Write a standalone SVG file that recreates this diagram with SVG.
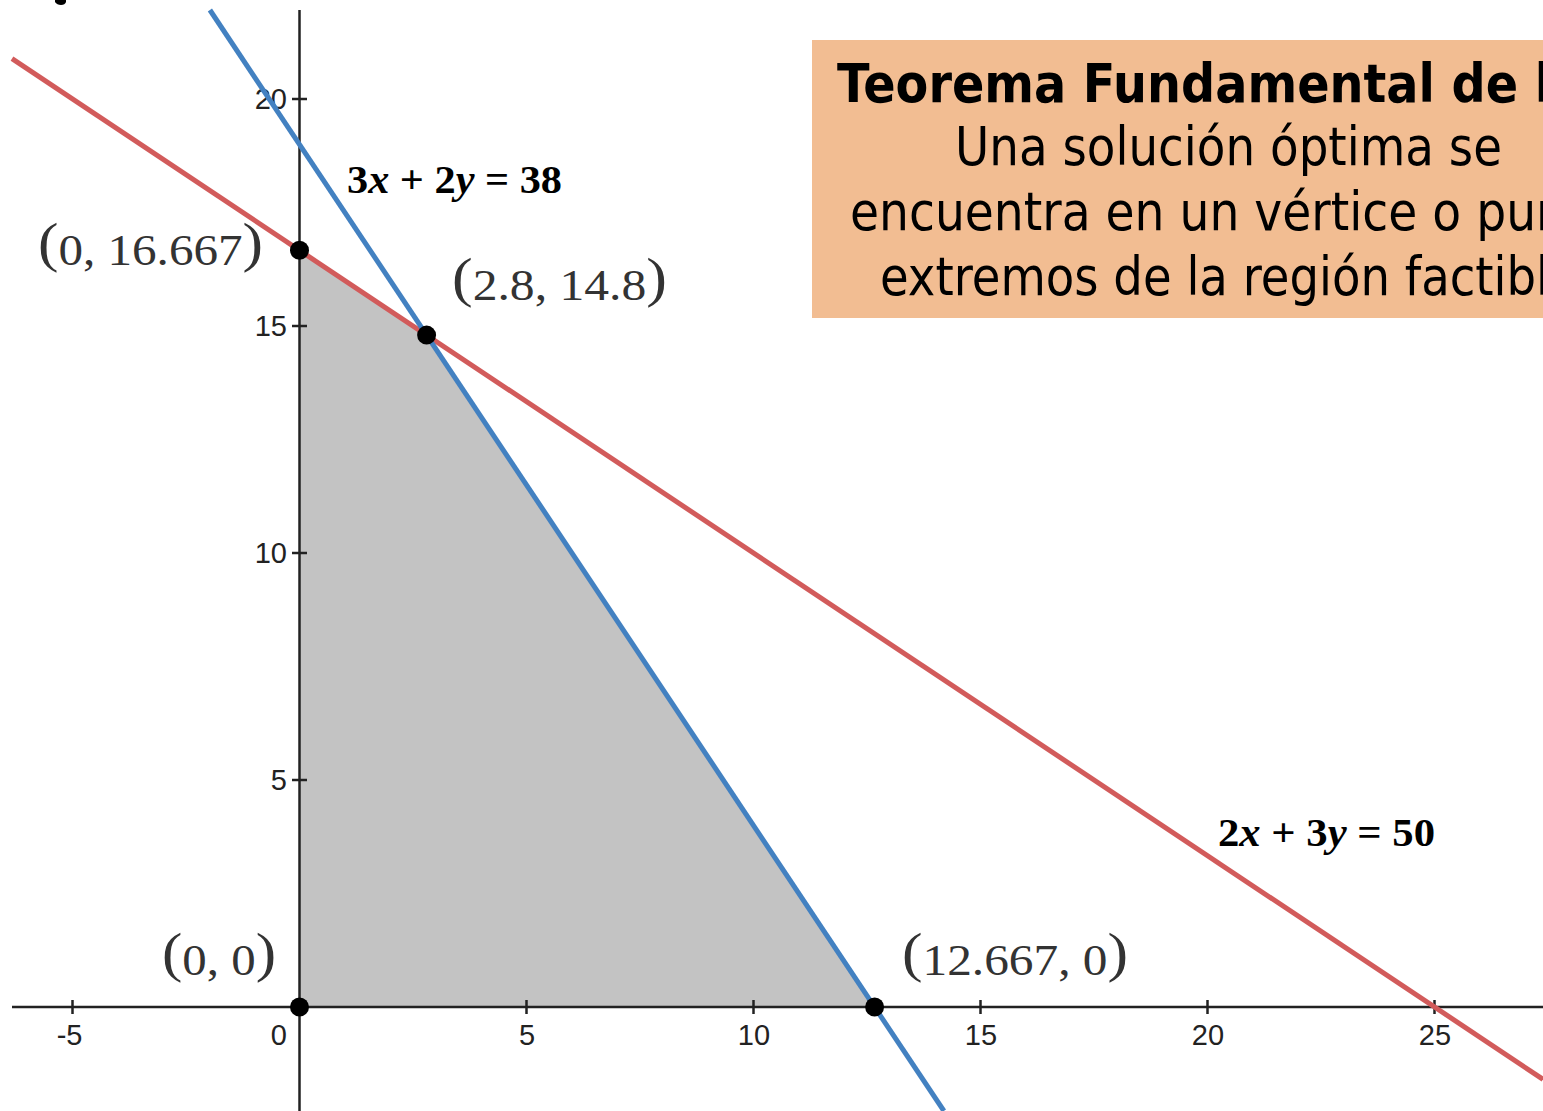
<svg xmlns="http://www.w3.org/2000/svg" width="1543" height="1111" viewBox="0 0 1543 1111">
<style>
.axis{stroke:#222;stroke-width:2.5;fill:none}
.tick{stroke:#222;stroke-width:2.5}
.tl{font-family:"Liberation Sans",Arial,sans-serif;font-size:29px;fill:#222}
.pl{font-family:"Liberation Serif","Times New Roman",serif;font-size:44px;fill:#333}
.pp{font-size:55px}
.eq{font-family:"Liberation Serif","Times New Roman",serif;font-size:40px;font-weight:bold;fill:#000}
.bt{font-family:"DejaVu Sans",Verdana,sans-serif;font-size:53px;fill:#000}
.dot{fill:#000}
</style>
<rect width="1543" height="1111" fill="#fff"/>
<path d="M55 0h11v2q-1 3-5 3t-6-3z" fill="#000"/>
<g id="region">
<polygon points="299.5,1007 299.5,250.3 426.6,335.1 874.6,1007" fill="#c3c3c3"/>
</g>
<g id="axes">
<line class="axis" x1="12" y1="1007" x2="1543" y2="1007"/>
<line class="axis" x1="299.5" y1="10" x2="299.5" y2="1111"/>
<g class="tick">
<line x1="72.5" y1="1000" x2="72.5" y2="1014"/>
<line x1="526.5" y1="1000" x2="526.5" y2="1014"/>
<line x1="753.5" y1="1000" x2="753.5" y2="1014"/>
<line x1="980.5" y1="1000" x2="980.5" y2="1014"/>
<line x1="1207.5" y1="1000" x2="1207.5" y2="1014"/>
<line x1="1434.5" y1="1000" x2="1434.5" y2="1014"/>
<line x1="292" y1="780" x2="307" y2="780"/>
<line x1="292" y1="553" x2="307" y2="553"/>
<line x1="292" y1="326" x2="307" y2="326"/>
<line x1="292" y1="99" x2="307" y2="99"/>
</g>
<text class="tl" x="82.5" y="1045" text-anchor="end">-5</text>
<text class="tl" x="287" y="1045" text-anchor="end">0</text>
<text class="tl" x="527" y="1045" text-anchor="middle">5</text>
<text class="tl" x="754" y="1045" text-anchor="middle">10</text>
<text class="tl" x="981" y="1045" text-anchor="middle">15</text>
<text class="tl" x="1208" y="1045" text-anchor="middle">20</text>
<text class="tl" x="1435" y="1045" text-anchor="middle">25</text>
<text class="tl" x="287" y="790" text-anchor="end">5</text>
<text class="tl" x="287" y="563" text-anchor="end">10</text>
<text class="tl" x="287" y="336" text-anchor="end">15</text>
<text class="tl" x="287" y="109" text-anchor="end">20</text>
</g>
<g id="connectors">
<line id="line-red" x1="12" y1="58.7" x2="1543" y2="1079.3" stroke="#d25b5b" stroke-width="5"/>
<line id="line-blue" x1="209.9" y1="10" x2="943.9" y2="1111" stroke="#4381c1" stroke-width="5"/>
</g>
<g id="vertex-0-0">
<circle class="dot" cx="299.5" cy="1007" r="9.5"/>
<text class="pl" x="162" y="975" textLength="114" lengthAdjust="spacingAndGlyphs"><tspan class="pp" dy="-4">(</tspan><tspan dy="4">0, 0</tspan><tspan class="pp" dy="-4">)</tspan></text>
</g>
<g id="vertex-0-16667">
<circle class="dot" cx="299.5" cy="250.3" r="9.5"/>
<text class="pl" x="38" y="265" textLength="225" lengthAdjust="spacingAndGlyphs"><tspan class="pp" dy="-4">(</tspan><tspan dy="4">0, 16.667</tspan><tspan class="pp" dy="-4">)</tspan></text>
</g>
<g id="vertex-2.8-14.8">
<circle class="dot" cx="426.6" cy="335.1" r="9.5"/>
<text class="pl" x="452" y="300" textLength="215" lengthAdjust="spacingAndGlyphs"><tspan class="pp" dy="-4">(</tspan><tspan dy="4">2.8, 14.8</tspan><tspan class="pp" dy="-4">)</tspan></text>
</g>
<g id="vertex-12667-0">
<circle class="dot" cx="874.6" cy="1007" r="9.5"/>
<text class="pl" x="902" y="975" textLength="226" lengthAdjust="spacingAndGlyphs"><tspan class="pp" dy="-4">(</tspan><tspan dy="4">12.667, 0</tspan><tspan class="pp" dy="-4">)</tspan></text>
</g>
<g id="eq-blue">
<text class="eq" x="347" y="193" textLength="215" lengthAdjust="spacingAndGlyphs">3<tspan font-style="italic">x</tspan> + 2<tspan font-style="italic">y</tspan> = 38</text>
</g>
<g id="eq-red">
<text class="eq" x="1218" y="846" textLength="217" lengthAdjust="spacingAndGlyphs">2<tspan font-style="italic">x</tspan> + 3<tspan font-style="italic">y</tspan> = 50</text>
</g>
<g id="theorem-box">
<rect x="812" y="40" width="731" height="278" fill="#f2bd92"/>
<text class="bt" font-weight="bold" x="837" y="102" textLength="714" lengthAdjust="spacingAndGlyphs">Teorema Fundamental de l</text>
<text class="bt" x="955" y="165" textLength="547" lengthAdjust="spacingAndGlyphs">Una solución óptima se</text>
<text class="bt" x="850" y="230" textLength="716" lengthAdjust="spacingAndGlyphs">encuentra en un vértice o pun</text>
<text class="bt" x="880" y="295" textLength="669" lengthAdjust="spacingAndGlyphs">extremos de la región factibl</text>
</g>
</svg>
